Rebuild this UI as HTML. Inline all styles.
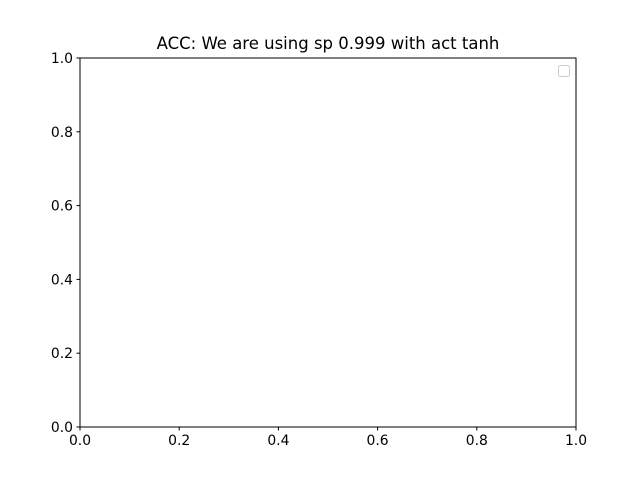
<!DOCTYPE html>
<html><head><meta charset="utf-8"><style>
body{margin:0;background:#fff;}
svg{display:block;font-family:"DejaVu Sans","Liberation Sans",sans-serif;}
</style></head><body>
<svg id="chart" width="640" height="480" viewBox="0 0 640 480">
<rect width="640" height="480" fill="#fff"/>
<text x="328" y="49" text-anchor="middle" font-size="16.5" fill="#000">ACC: We are using sp 0.999 with act tanh</text>
<g id="axes"></g>
<rect x="80" y="58" width="496" height="369" fill="none" stroke="#000" stroke-width="1"/>
<rect x="558.5" y="65.5" width="11" height="11" rx="2" fill="#fff" stroke="#ccc" stroke-width="1"/>
</svg>
<script>
const xTicks=[0,0.2,0.4,0.6,0.8,1.0];
const yTicks=[0,0.2,0.4,0.6,0.8,1.0];
const xTickLabels=["0.0","0.2","0.4","0.6","0.8","1.0"];
const yTickLabels=["0.0","0.2","0.4","0.6","0.8","1.0"];
const L=80,R=576,T=58,B=427;
const xs=v=>L+v*(R-L), ys=v=>B-v*(B-T);
const g=document.getElementById('axes');
const NS='http://www.w3.org/2000/svg';
function mk(tag,attrs){const e=document.createElementNS(NS,tag);for(const k in attrs)e.setAttribute(k,attrs[k]);g.appendChild(e);return e;}
xTicks.forEach((v,i)=>{
  const x=xs(v);
  const t=mk('line',{x1:x,x2:x,y1:B,y2:B+3.5,stroke:'#000','stroke-width':1});
  
  
  const l=mk('text',{x:x,y:B+18,'text-anchor':'middle','font-size':13.9,fill:'#000'});
  l.textContent=xTickLabels[i];
  
  
});
yTicks.forEach((v,i)=>{
  const y=ys(v);
  const t=mk('line',{x1:L-3.5,x2:L,y1:y,y2:y,stroke:'#000','stroke-width':1});
  
  
  const l=mk('text',{x:L-7,y:y+5,'text-anchor':'end','font-size':13.9,fill:'#000'});
  l.textContent=yTickLabels[i];
  
  
});
</script>
</body></html>
